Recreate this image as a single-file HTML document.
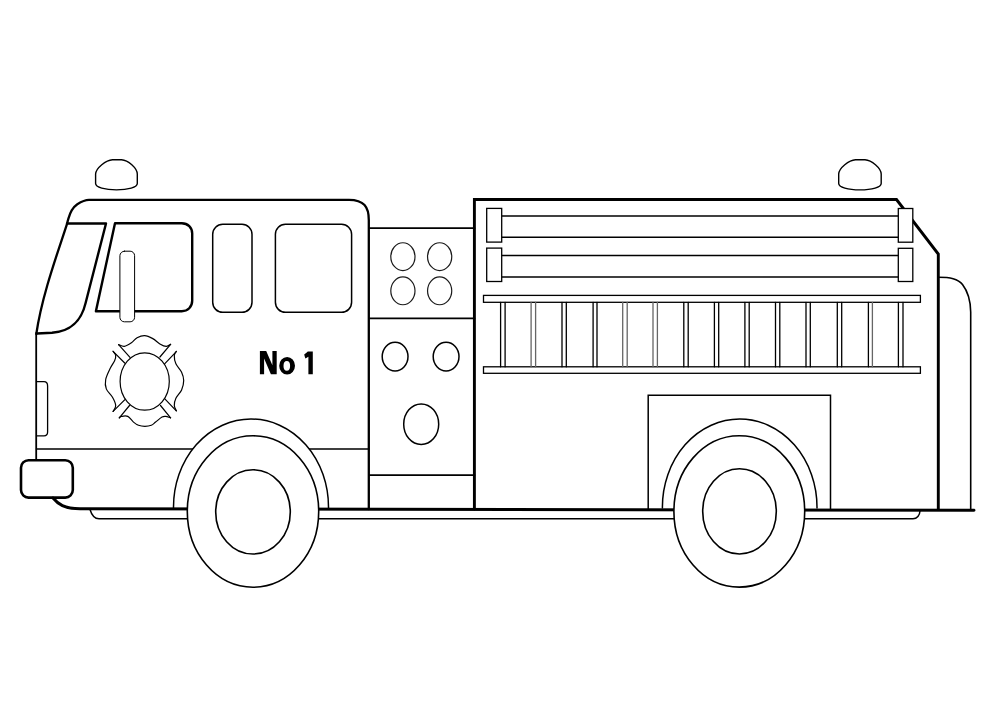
<!DOCTYPE html>
<html><head><meta charset="utf-8"><title>Fire Truck</title>
<style>
html,body{margin:0;padding:0;background:#fff;}
body{width:982px;height:718px;overflow:hidden;font-family:"Liberation Sans",sans-serif;}
svg{display:block;}
</style></head>
<body>
<svg width="982" height="718" viewBox="0 0 982 718">
<rect x="0" y="0" width="982" height="718" fill="#fff"/>
<g fill="none" stroke="#000" stroke-linejoin="round" stroke-linecap="round">

<!-- beacons -->
<path d="M95.6,174 C96,168 106,160 112.5,159.7 L121.5,159.7 C128,160 137.2,168 137.3,174 L137.3,183.5 C137.3,187.3 128,189.9 116.5,189.9 C105,189.9 95.6,187.3 95.6,183.5 Z" stroke-width="1.4"/>
<path d="M838.7,174 C839,168 849,160 855.5,159.7 L865,159.7 C871.5,160 881,168 881.2,174 L881.2,183.5 C881.2,187.3 872,189.9 860,189.9 C848,189.9 838.7,187.3 838.7,183.5 Z" stroke-width="1.4"/>

<!-- cab outline -->
<path d="M368.8,509 L368.8,220 C368.8,207 364,199.8 349,199.8 L89,199.8 C85.5,199.8 80.1,202.4 77.3,204.2 C74.5,206 73.2,208 71.7,210.4 C70.2,212.8 69.1,216.4 68.4,218.7 C67.9,220.3 67.5,221.8 67.2,223.3 C58,252 42,295 36.3,334" stroke-width="2.3"/>
<line x1="36.2" y1="333" x2="36.2" y2="462" stroke-width="1.8"/>
<!-- windshield -->
<path d="M67,223.5 L106,223.5 L85.6,303 C82,318 74,331 52,332.8 L37,333.5" stroke-width="2.4"/>
<!-- front window -->
<path d="M115,223.3 L181.8,223.3 C187.8,223.3 192.2,227.5 192.2,233.5 L192.2,300.8 C192.2,306.8 187.8,311.2 181.8,311.2 L95.9,311.2 Z" stroke-width="2.4"/>
<!-- mirror -->
<rect x="119.9" y="251.2" width="14.7" height="70.6" rx="4.5" fill="#fff" stroke-width="1"/>
<!-- side windows -->
<rect x="212.7" y="224.3" width="39.3" height="88" rx="10" stroke-width="1.5"/>
<rect x="275.4" y="224.3" width="76.2" height="88" rx="10" stroke-width="1.5"/>
<!-- headlight -->
<path d="M36.5,381.7 L44,381.7 Q47.6,381.7 47.6,386 L47.6,432 Q47.6,435.8 44,435.8 L36.5,435.8" stroke-width="1.3"/>
<!-- cab lower line -->
<line x1="36.5" y1="449" x2="368.8" y2="449" stroke-width="1.5"/>

<!-- emblem -->
<g stroke-width="1.2">
<path d="M118.60,344.60 C119.55,344.90 122.17,346.70 124.30,346.40 C126.43,346.10 129.27,344.23 131.40,342.80 C133.53,341.37 134.90,339.00 137.10,337.80 C139.30,336.60 141.98,335.47 144.60,335.60 C147.22,335.73 150.25,337.22 152.80,338.60 C155.35,339.98 157.65,342.60 159.90,343.90 C162.15,345.20 164.52,346.33 166.30,346.40 C168.08,346.47 169.88,344.65 170.60,344.30"/>
<path d="M119.30,417.80 C119.65,417.57 119.98,416.63 121.40,416.40 C122.82,416.17 125.78,415.45 127.80,416.40 C129.82,417.35 131.72,420.62 133.50,422.10 C135.28,423.58 136.60,424.58 138.50,425.30 C140.40,426.02 142.77,426.40 144.90,426.40 C147.03,426.40 149.52,426.02 151.30,425.30 C153.08,424.58 153.82,423.47 155.60,422.10 C157.38,420.73 160.33,418.05 162.00,417.10 C163.67,416.15 164.17,416.28 165.60,416.40 C167.03,416.52 169.77,417.57 170.60,417.80"/>
<path d="M113.10,351.30 C113.53,351.98 115.45,353.83 115.70,355.40 C115.95,356.97 115.48,358.60 114.60,360.70 C113.72,362.80 111.88,364.87 110.40,368.00 C108.92,371.13 106.38,376.02 105.70,379.50 C105.02,382.98 105.17,385.95 106.30,388.90 C107.43,391.85 110.93,394.42 112.50,397.20 C114.07,399.98 115.60,403.23 115.70,405.60 C115.80,407.97 113.53,410.43 113.10,411.40"/>
<path d="M176.40,351.30 C176.05,351.98 174.38,353.32 174.30,355.40 C174.22,357.48 174.68,361.00 175.90,363.80 C177.12,366.60 180.30,369.42 181.60,372.20 C182.90,374.98 183.70,377.55 183.70,380.50 C183.70,383.45 182.90,386.93 181.60,389.90 C180.30,392.87 177.12,395.68 175.90,398.30 C174.68,400.92 174.22,403.52 174.30,405.60 C174.38,407.68 176.05,409.93 176.40,410.80"/>
<path d="M118.6,344.6 L130,357.3 M170.6,344.3 L159.9,357 M113.1,351.3 L124.7,363 M113.1,411.4 L124.9,399.6 M176.3,351.6 L164.6,363.8 M176.3,410.8 L164.6,398.6 M119.3,417.8 L129.5,405.5 M170.6,417.8 L160.5,405.5"/>
<ellipse cx="144.7" cy="381.5" rx="24.6" ry="28.7" fill="#fff"/>
</g>

<!-- middle section -->
<g stroke-width="1.8">
<line x1="369" y1="228.2" x2="474.5" y2="228.2"/>
<line x1="369" y1="318.4" x2="474.5" y2="318.4"/>
<line x1="369" y1="475.1" x2="474.5" y2="475.1"/>
</g>
<g stroke-width="1.2" stroke="#1a1a1a">
<ellipse cx="402.9" cy="256.65" rx="12.1" ry="13.9"/>
<ellipse cx="439.65" cy="256.65" rx="12.1" ry="13.9"/>
<ellipse cx="402.9" cy="290.85" rx="12.1" ry="13.9"/>
<ellipse cx="439.65" cy="290.85" rx="12.1" ry="13.9"/>
</g>
<g stroke-width="1.5">
<ellipse cx="395.1" cy="356.6" rx="12.9" ry="14.4"/>
<ellipse cx="446.1" cy="356.6" rx="12.9" ry="14.4"/>
<ellipse cx="421.2" cy="424.2" rx="17.5" ry="20.3"/>
</g>

<!-- body -->
<path d="M474.4,509 L474.4,199.5 L896.5,199.5 L938.3,254.1 L938.3,509" stroke-width="2.9" stroke-linejoin="miter"/>
<!-- rear step -->
<path d="M938.3,277.3 C950,277.3 958,278.5 962.5,284.5 C967.5,291 970.5,298 970.7,312 L970.7,509" stroke-width="1.6"/>

<!-- hoses -->
<g stroke-width="1.5">
<line x1="501.7" y1="215.9" x2="898.3" y2="215.9"/>
<line x1="501.7" y1="237.3" x2="898.3" y2="237.3"/>
<line x1="501.7" y1="255.4" x2="898.3" y2="255.4"/>
<line x1="501.7" y1="276.9" x2="898.3" y2="276.9"/>
</g>
<g stroke-width="1.3" fill="#fff" stroke-linejoin="miter">
<rect x="486.7" y="208.4" width="15" height="33.7"/>
<rect x="486.7" y="248.1" width="15" height="33.4"/>
<rect x="898.3" y="208.5" width="14.5" height="33.7"/>
<rect x="898.3" y="248.3" width="14.5" height="33.2"/>
</g>

<!-- ladder -->
<g stroke-width="1.3" stroke-linejoin="miter">
<rect x="483.5" y="295.4" width="436.9" height="6.9"/>
<rect x="483.5" y="366.8" width="436.9" height="6.5"/>
<path d="M500.6,302.3V366.8M505.1,302.3V366.8M562,302.3V366.8M566.3,302.3V366.8M593.1,302.3V366.8M597,302.3V366.8M683.8,302.3V366.8M688.2,302.3V366.8M714.4,302.3V366.8M718.7,302.3V366.8M744.9,302.3V366.8M749.2,302.3V366.8M775.5,302.3V366.8M779.8,302.3V366.8M806,302.3V366.8M810.3,302.3V366.8M837.3,302.3V366.8M841.7,302.3V366.8M898.4,302.3V366.8M903,302.3V366.8M868.4,302.3V366.8"/>
<path d="M531.1,302.3V366.8M535.6,302.3V366.8M622.7,302.3V366.8M627.2,302.3V366.8M653,302.3V366.8M657.4,302.3V366.8M872.4,302.3V366.8" stroke="#666"/>
</g>

<!-- compartment door -->
<path d="M648.2,509 L648.2,395.3 L830.5,395.3 L830.5,509" stroke-width="1.5" stroke-linejoin="miter"/>

<!-- bumper -->
<rect x="21" y="460.2" width="51.8" height="37.4" rx="7.5" fill="#fff" stroke-width="2.6"/>

<!-- fender arches -->
<path d="M173.5,508 L173.5,507 A77.5,88 0 0 1 328.5,507 L328.5,508" fill="#fff" stroke-width="1.5"/>
<path d="M662.4,508 L662.4,507 A77.3,88 0 0 1 817,507 L817,508" fill="#fff" stroke-width="1.5"/>

<!-- ground lines -->
<path d="M53,498 C58,504 64,508.6 80,508.8 L974,510.3" stroke-width="3"/>
<path d="M90,509.5 C91.5,514.5 94.5,518.8 99,518.8 L913,518.8 C917,518.8 919.8,515 920,511" stroke-width="1.5"/>

<!-- wheels -->
<g stroke-width="1.6" fill="#fff">
<ellipse cx="253" cy="511.5" rx="65.7" ry="75.7"/>
<ellipse cx="253" cy="511.9" rx="37.3" ry="42.1"/>
<ellipse cx="739.3" cy="511.4" rx="65.4" ry="75.7"/>
<ellipse cx="739.5" cy="511.4" rx="36.8" ry="42.6"/>
</g>
</g>

<!-- text: No 1 -->
<g fill="#000" stroke="none">
<path d="M259.9,374.3 L259.9,351.1 L266.2,351.1 L272.4,365.2 L272.4,351.1 L276.7,351.1 L276.7,374.3 L270.9,374.3 L264.1,358.6 L264.1,374.3 Z"/>
<path fill-rule="evenodd" d="M279.2,365.75 A7.9,8.85 0 1 0 295,365.75 A7.9,8.85 0 1 0 279.2,365.75 Z M283.5,365.9 A3.3,4.8 0 1 0 290.1,365.9 A3.3,4.8 0 1 0 283.5,365.9 Z"/>
<path d="M307.8,351.6 L312.8,351.6 L312.8,374.2 L308.4,374.2 L308.4,356.8 L305.4,358.6 Q304.7,356.5 304.2,354.5 Q306.2,353.3 307.8,351.6 Z"/>
</g>
</svg>
</body></html>
